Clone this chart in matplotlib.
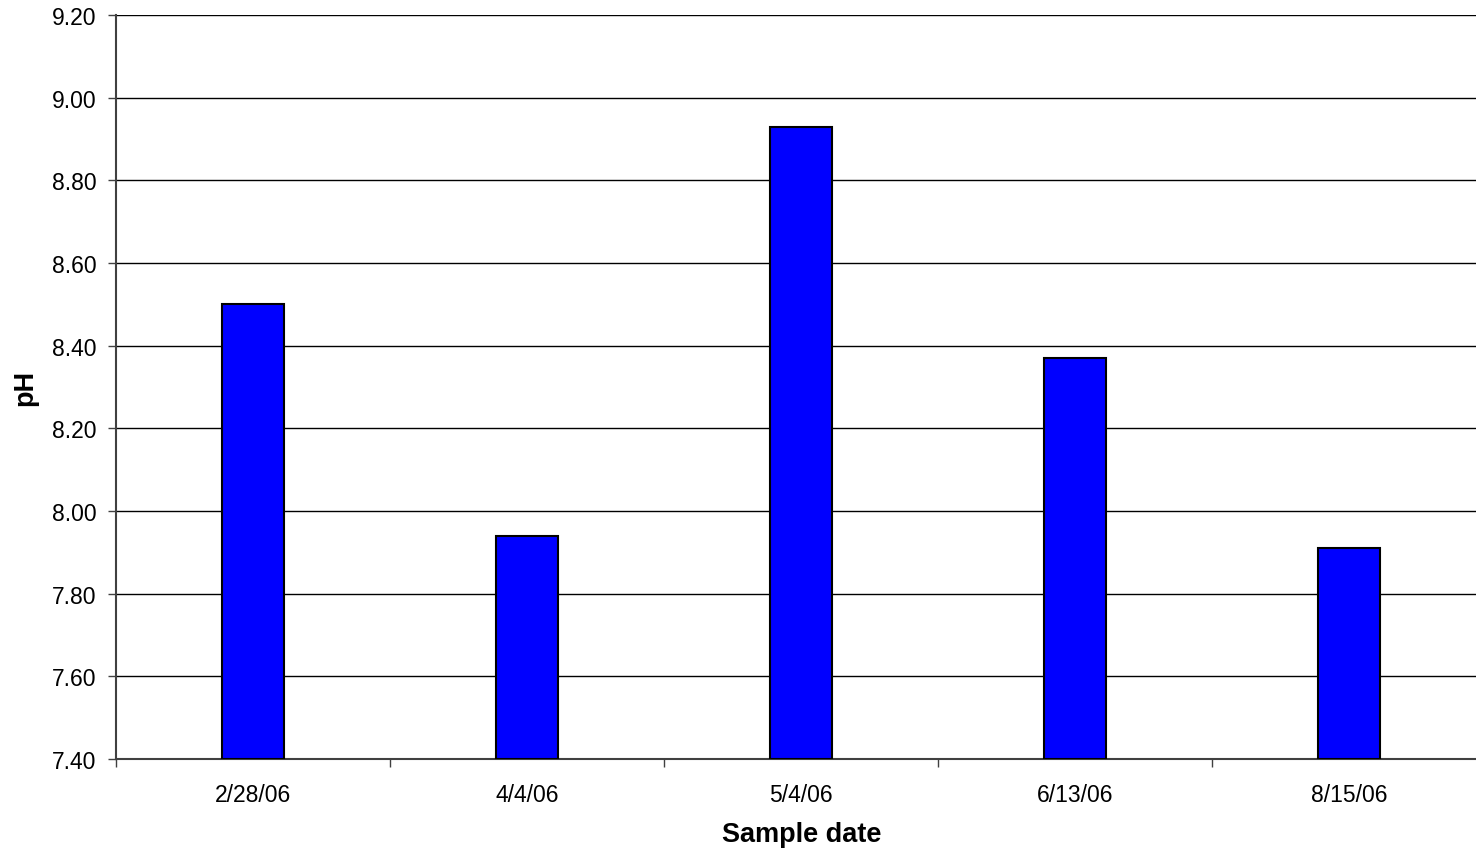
import matplotlib
matplotlib.use("Agg")
import matplotlib.pyplot as plt
from matplotlib.ticker import FixedLocator, FuncFormatter

# Data
dates = ["2/28/06", "4/4/06", "5/4/06", "6/13/06", "8/15/06"]
ph_values = [8.50, 7.94, 8.93, 8.37, 7.91]
y_ticks = [7.40, 7.60, 7.80, 8.00, 8.20, 8.40, 8.60, 8.80, 9.00, 9.20]
x_label = "Sample date"
y_label = "pH"

plt.rcParams['font.family'] = ['Liberation Sans', 'DejaVu Sans']

W, H = 1476, 854
fig = plt.figure(figsize=(W / 100, H / 100), dpi=100)
# plot area extends slightly beyond the right edge of the image (as in the reference)
ax = fig.add_axes([116 / W, 1 - 760 / H, 1370.5 / W, (760 - 16) / H])

ymin, ymax = y_ticks[0], y_ticks[-1]
xs = list(range(len(dates)))
ax.bar(xs, [v - ymin for v in ph_values], bottom=ymin, width=0.226,
       color="#0000FF", edgecolor="black", linewidth=1.5, zorder=3)

ax.set_xlim(-0.5, len(dates) - 0.5)
ax.set_ylim(ymin, ymax)

ax.set_yticks(y_ticks)
ax.yaxis.set_major_formatter(FuncFormatter(lambda v, p: f"{v:.2f}"))
ax.yaxis.grid(True, color="black", linewidth=1.0, zorder=0)
ax.set_axisbelow(True)

ax.set_xticks(xs)
ax.set_xticklabels(dates)
ax.xaxis.set_minor_locator(FixedLocator([i - 0.5 for i in range(len(dates) + 1)]))

for s in ["top", "right"]:
    ax.spines[s].set_visible(False)
for s in ["left", "bottom"]:
    ax.spines[s].set_color("#404040")
    ax.spines[s].set_linewidth(1.5)

ax.tick_params(axis="y", direction="out", length=6, width=1, color="#404040",
               labelsize=16.5, pad=8)
ax.tick_params(axis="x", which="major", length=0, labelsize=16.5, pad=17)
ax.tick_params(axis="x", which="minor", direction="out", length=6, width=1,
               color="#404040")

ax.set_xlabel(x_label, fontsize=19.5, fontweight="bold", labelpad=11)
ax.set_ylabel(y_label, fontsize=19.5, fontweight="bold", labelpad=10)

fig.savefig("out.png", dpi=100)
